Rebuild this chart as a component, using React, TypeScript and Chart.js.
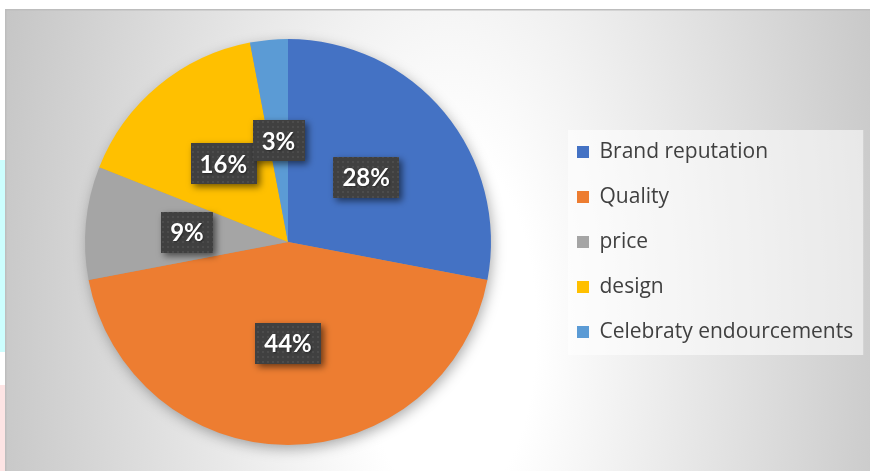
import React, { useEffect, useRef } from 'react';
import { Chart, registerables } from 'chart.js';

Chart.register(...registerables);

// ---- data ----
const categories = ['Brand reputation', 'Quality', 'price', 'design', 'Celebraty endourcements'];
const shares = [28, 44, 9, 16, 3];
const sliceColors = ['#4472C4', '#ED7D31', '#A5A5A5', '#FFC000', '#5B9BD5'];

// ---- styling ----
const LEGEND_FONT = '"Open Sans", "Noto Sans", sans-serif';
const LABEL_FONT = 'Lato, "Open Sans", sans-serif';
const LEGEND_SIZE = 21;
const LEGEND_PAD = 24;
const BOX = 12;
const CW = 865;
const CH = 462;

function makePattern(ctx: CanvasRenderingContext2D) {
  const c = document.createElement('canvas');
  c.width = 5;
  c.height = 5;
  const p = c.getContext('2d')!;
  p.fillStyle = '#404040';
  p.fillRect(0, 0, 5, 5);
  p.fillStyle = '#4c4c4c';
  p.fillRect(2, 2, 2, 2);
  return ctx.createPattern(c, 'repeat')!;
}

export default function App() {
  const ref = useRef<HTMLCanvasElement>(null);

  useEffect(() => {
    document.body.style.margin = '0';
    const canvas = ref.current!;
    const m = document.createElement('canvas').getContext('2d')!;
    m.font = `${LEGEND_SIZE}px ${LEGEND_FONT}`;
    const tw = Math.max(...categories.map((c) => m.measureText(c).width));
    const itemW = BOX + LEGEND_SIZE / 2 + tw;
    const legendW = LEGEND_PAD + itemW + 10;
    const legendLeft = 548;
    const padLeft = 566 - legendLeft;
    const padRight = Math.max(0, CW - legendLeft - legendW);

    const bgPlugin = {
      id: 'bg',
      beforeDraw(chart: any) {
        const ctx = chart.ctx as CanvasRenderingContext2D;
        const cx = 445;
        const cy = 321;
        const rx = 480;
        const ry = 1000;
        ctx.save();
        ctx.translate(cx, cy);
        ctx.scale(1, ry / rx);
        const g = ctx.createRadialGradient(0, 0, 0, 0, 0, rx);
        g.addColorStop(0, '#ffffff');
        g.addColorStop(0.18, '#ffffff');
        g.addColorStop(1, '#c4c4c4');
        ctx.fillStyle = g;
        ctx.fillRect(-cx, (-cy * rx) / ry, CW, (CH * rx) / ry);
        ctx.restore();
        ctx.save();
        ctx.fillStyle = '#bdbdbd';
        ctx.fillRect(0, 0, CW, 1.5);
        ctx.fillRect(0, 0, 1.5, CH);
        // legend background
        const lg = chart.legend;
        const hb = lg && lg.legendHitBoxes;
        if (hb && hb.length) {
          const maxW = Math.max(...hb.map((h: any) => h.width));
          const left = hb[0].left - 9;
          const top = hb[0].top - 11.5;
          const right = Math.min(CW - 6, hb[0].left + maxW + 10);
          const last = hb[hb.length - 1];
          const bottom = last.top + last.height + 12.5;
          ctx.fillStyle = 'rgba(255,255,255,0.55)';
          ctx.fillRect(left, top, right - left, bottom - top);
        }
        ctx.restore();
      },
    };

    const shadowPlugin = {
      id: 'pieShadow',
      beforeDatasetsDraw(chart: any) {
        const meta = chart.getDatasetMeta(0);
        const a = meta.data[0];
        if (!a) return;
        const ctx = chart.ctx as CanvasRenderingContext2D;
        ctx.save();
        ctx.shadowColor = 'rgba(0,0,0,0.35)';
        ctx.shadowBlur = 14;
        ctx.shadowOffsetX = 2;
        ctx.shadowOffsetY = 4;
        ctx.fillStyle = '#999';
        ctx.beginPath();
        ctx.arc(a.x, a.y, a.outerRadius - 1, 0, Math.PI * 2);
        ctx.fill();
        ctx.restore();
      },
    };

    const labelPlugin = {
      id: 'pctLabels',
      afterDatasetsDraw(chart: any) {
        const ctx = chart.ctx as CanvasRenderingContext2D;
        const meta = chart.getDatasetMeta(0);
        const data = chart.data.datasets[0].data as number[];
        const total = data.reduce((s, v) => s + v, 0);
        const pattern = makePattern(ctx);
        meta.data.forEach((arc: any, i: number) => {
          const { x, y } = arc.tooltipPosition(false);
          const txt = Math.round((data[i] / total) * 100) + '%';
          ctx.save();
          ctx.font = `bold 24px ${LABEL_FONT}`;
          const w = ctx.measureText(txt).width + 18;
          const h = 41;
          ctx.shadowColor = 'rgba(0,0,0,0.55)';
          ctx.shadowBlur = 7;
          ctx.shadowOffsetX = 3;
          ctx.shadowOffsetY = 3;
          ctx.fillStyle = pattern;
          ctx.fillRect(Math.round(x - w / 2), Math.round(y - h / 2), Math.round(w), h);
          ctx.shadowColor = 'rgba(0,0,0,0.4)';
          ctx.shadowBlur = 2;
          ctx.shadowOffsetX = 1;
          ctx.shadowOffsetY = 1;
          ctx.fillStyle = '#ffffff';
          ctx.textAlign = 'center';
          ctx.textBaseline = 'middle';
          ctx.fillText(txt, x, y + 1);
          ctx.restore();
        });
      },
    };

    const chart = new Chart(canvas, {
      type: 'pie',
      data: {
        labels: categories,
        datasets: [
          {
            data: shares,
            backgroundColor: sliceColors,
            borderWidth: 0,
          },
        ],
      },
      options: {
        responsive: false,
        animation: false,
        devicePixelRatio: 1,
        events: [],
        layout: { padding: { left: padLeft, right: padRight, top: 30, bottom: 26 } },
        plugins: {
          tooltip: { enabled: false },
          legend: {
            display: true,
            position: 'right',
            align: 'center',
            labels: {
              boxWidth: BOX,
              boxHeight: BOX,
              padding: LEGEND_PAD,
              color: '#404040',
              font: { family: LEGEND_FONT, size: LEGEND_SIZE },
            },
          },
        },
      },
      plugins: [bgPlugin, shadowPlugin, labelPlugin],
    } as any);
    return () => chart.destroy();
  }, []);

  return (
    <div style={{ position: 'relative', width: 870, height: 471, background: '#ffffff', overflow: 'hidden' }}>
      <div style={{ position: 'absolute', left: 0, top: 160, width: 5, height: 192, background: '#ccfefe' }} />
      <div style={{ position: 'absolute', left: 0, top: 385, width: 5, height: 86, background: '#fde4e4' }} />
      <canvas
        ref={ref}
        width={CW}
        height={CH}
        style={{ position: 'absolute', left: 5, top: 9, width: CW, height: CH }}
      />
    </div>
  );
}
